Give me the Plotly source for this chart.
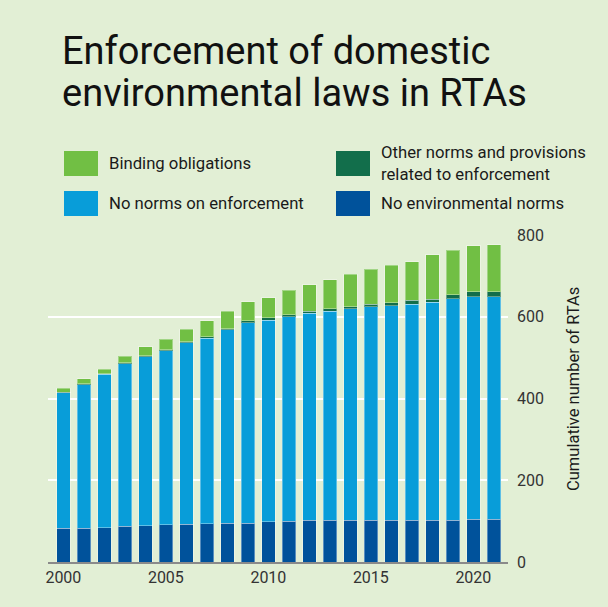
import plotly.graph_objects as go

# Cumulative number of RTAs by year, split by type of enforcement provisions
years = list(range(2000, 2022))
no_env_norms = [82, 83, 84, 88, 89, 91, 92, 93, 95, 95, 98, 100,
                102, 102, 102, 102, 102, 102, 102, 102, 104, 104]
no_enforcement = [332, 351, 375, 397, 413, 426, 444, 455, 473, 490, 493, 500,
                  506, 511, 517, 522, 525, 528, 534, 542, 545, 545]
other_enforcement = [1, 2, 2, 2, 2, 2, 3, 3, 3, 5, 6, 5,
                     6, 6, 6, 7, 7, 10, 7, 10, 12, 12]
binding = [10, 12, 11, 16, 23, 26, 31, 39, 42, 47, 49, 60,
           64, 71, 79, 85, 92, 94, 109, 109, 113, 115]

series_names = ["No environmental norms", "No norms on enforcement",
                "Other norms and provisions<br>related to enforcement",
                "Binding obligations"]
series_values = [no_env_norms, no_enforcement, other_enforcement, binding]
colors = ["#00529b", "#089dd9", "#126e4b", "#71bf44"]

title_lines = ["Enforcement of domestic", "environmental laws in RTAs"]
y_title = "Cumulative number of RTAs"
y_ticks = [0, 200, 400, 600, 800]
x_ticks = [2000, 2005, 2010, 2015, 2020]

BG = "#e2efd5"
TEXT = "#1a1a1a"
FONT = "Roboto, sans-serif"

W, H = 608, 607
ML, MR, MT, MB = 48, 100, 235, 45
PW, PH = W - ML - MR, H - MT - MB


def px_x(x):
    return (x - ML) / PW


def px_y(y):
    return (H - MB - y) / PH


fig = go.Figure()
for name, vals, col in zip(series_names, series_values, colors):
    fig.add_trace(go.Bar(
        x=years, y=vals, name=name.replace("<br>", " "),
        marker=dict(color=col, line=dict(color="rgba(255,255,255,0.35)", width=1)),
        width=0.65, showlegend=False,
    ))

# Legend: colour swatches and labels in two columns
legend_items = [
    (series_names[3], colors[3], 64, 151),
    (series_names[2], colors[2], 336, 151),
    (series_names[1], colors[1], 64, 191),
    (series_names[0], colors[0], 336, 191),
]
shapes = []
annotations = []
for label, col, lx, ly in legend_items:
    shapes.append(dict(type="rect", xref="paper", yref="paper",
                       x0=px_x(lx), x1=px_x(lx + 34),
                       y0=px_y(ly + 25), y1=px_y(ly),
                       fillcolor=col, line=dict(width=0)))
    annotations.append(dict(text=label, xref="paper", yref="paper",
                            x=px_x(lx + 43), y=px_y(ly + 12.5),
                            xanchor="left", yanchor="middle", align="left",
                            showarrow=False,
                            font=dict(family=FONT, size=16.7, color=TEXT)))

# Two-line heading
for i, line in enumerate(title_lines):
    annotations.append(dict(text=line, xref="paper", yref="paper",
                            x=px_x(60), y=px_y(51 + 42 * i),
                            xanchor="left", yanchor="middle",
                            showarrow=False,
                            font=dict(family=FONT, size=38, color="#111111")))

# Vertical axis caption to the right of the tick labels
annotations.append(dict(text=y_title, xref="paper", yref="paper",
                        x=px_x(573), y=px_y(389), textangle=-90,
                        xanchor="center", yanchor="middle", showarrow=False,
                        font=dict(family=FONT, size=16.5, color=TEXT)))

fig.update_layout(
    barmode="stack",
    width=W, height=H,
    margin=dict(l=ML, r=MR, t=MT, b=MB, pad=0),
    paper_bgcolor=BG, plot_bgcolor=BG,
    bargap=0.35,
    shapes=shapes,
    annotations=annotations,
    font=dict(family=FONT, size=16, color="#333333"),
    xaxis=dict(range=[1999.25, 2021.69], tickvals=x_ticks,
               ticks="", showgrid=False, showline=True,
               linecolor="#8a8a8a", linewidth=2, zeroline=False,
               tickfont=dict(size=16, color="#333333")),
    yaxis=dict(range=[0, 800], tickvals=y_ticks, side="right",
               showgrid=True, gridcolor="#ffffff", gridwidth=1.5,
               zeroline=False, ticks="", ticklabelstandoff=8,
               tickfont=dict(size=16, color="#333333")),
)

fig.write_html("out.html")
